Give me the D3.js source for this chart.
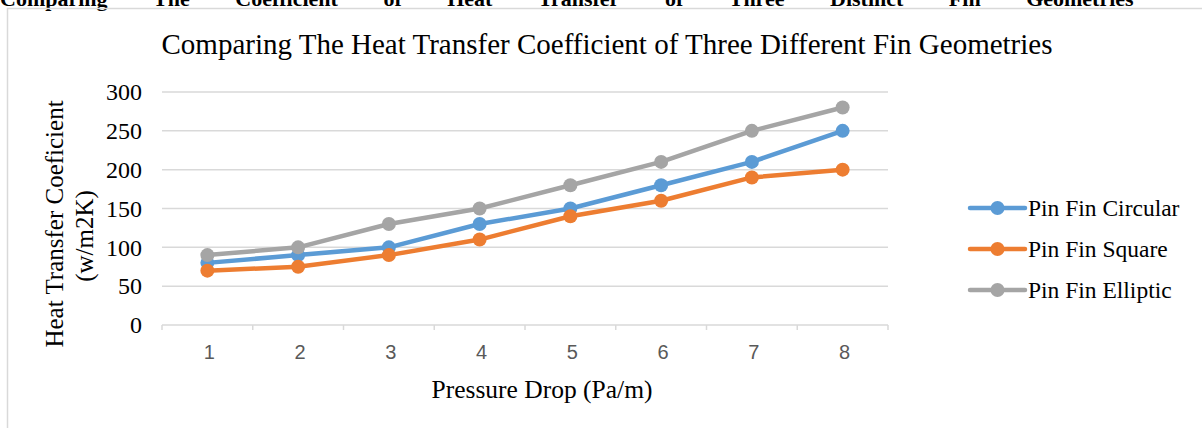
<!DOCTYPE html>
<html>
<head>
<meta charset="utf-8">
<script src="https://cdn.jsdelivr.net/npm/d3@7"></script>
<style>
  body { margin: 0; background: #fff; }
  svg { display: block; }
</style>
</head>
<body>
<script>
// data
var categories = ["1", "2", "3", "4", "5", "6", "7", "8"];
var circular = [80, 90, 100, 130, 150, 180, 210, 250];
var square = [70, 75, 90, 110, 140, 160, 190, 200];
var elliptic = [90, 100, 130, 150, 180, 210, 250, 280];
var seriesNames = ["Pin Fin Circular", "Pin Fin Square", "Pin Fin Elliptic"];
var yTicks = [0, 50, 100, 150, 200, 250, 300];
var captionWords = ["Comparing", "The", "Coefficient", "of", "Heat", "Transfer", "of", "Three", "Distinct", "Fin", "Geometries"];

var W = 1202, H = 428;
var plot = {left: 162, right: 888, top: 92, bottom: 325};
var colors = ["#5B9BD5", "#ED7D31", "#A5A5A5"];
var serif = "'Liberation Serif', 'Times New Roman', serif";

var svg = d3.select("body").append("svg")
  .attr("width", W)
  .attr("height", H);

// caption from the page above, cut off by the window top
var cap = svg.append("g").attr("font-family", serif).attr("font-weight", "bold").attr("font-size", 22);
var cx = 0;
captionWords.forEach(function(w) {
  var t = cap.append("text").attr("x", cx).attr("y", 6).text(w);
  cx += t.node().getComputedTextLength() + 45.5;
});

// chart frame
svg.append("path")
  .attr("d", "M7.5," + (H + 2) + "V8.5H" + (W + 2))
  .attr("fill", "none")
  .attr("stroke", "#d9d9d9")
  .attr("stroke-width", 1.5);

var x = d3.scaleBand().domain(categories).range([plot.left, plot.right]);
var y = d3.scaleLinear().domain([0, 300]).range([plot.bottom, plot.top]);

// gridlines
svg.append("g")
  .selectAll("line")
  .data(yTicks.slice(1))
  .enter().append("line")
  .attr("x1", plot.left).attr("x2", plot.right)
  .attr("y1", function(d) { return y(d); })
  .attr("y2", function(d) { return y(d); })
  .attr("stroke", "#d9d9d9")
  .attr("stroke-width", 1.5);

// x axis with ticks between categories
var xAxis = svg.append("g")
  .attr("transform", "translate(0," + plot.bottom + ")");
xAxis.append("line")
  .attr("x1", plot.left).attr("x2", plot.right)
  .attr("stroke", "#d9d9d9").attr("stroke-width", 1.5);
xAxis.selectAll("line.tick")
  .data(d3.range(categories.length + 1))
  .enter().append("line")
  .attr("class", "tick")
  .attr("x1", function(i) { return plot.left + i * x.step(); })
  .attr("x2", function(i) { return plot.left + i * x.step(); })
  .attr("y1", 0).attr("y2", 5)
  .attr("stroke", "#d9d9d9").attr("stroke-width", 1.5);
xAxis.selectAll("text")
  .data(categories)
  .enter().append("text")
  .attr("x", function(d) { return x(d) + x.bandwidth() / 2 + 2; })
  .attr("y", 34)
  .attr("text-anchor", "middle")
  .attr("font-family", "'Liberation Sans', Arial, sans-serif")
  .attr("font-size", 20)
  .attr("fill", "#595959")
  .text(function(d) { return d; });

// y axis labels
var yAxis = d3.axisLeft(y).tickValues(yTicks).tickSize(0).tickPadding(20);
svg.append("g")
  .attr("transform", "translate(" + plot.left + ",0)")
  .call(yAxis)
  .call(function(g) { g.select(".domain").remove(); })
  .selectAll("text")
  .attr("font-family", serif)
  .attr("font-size", 24)
  .attr("fill", "#000");

// lines and markers
var allSeries = [circular, square, elliptic];
var line = d3.line()
  .x(function(d, i) { return x(categories[i]) + x.bandwidth() / 2; })
  .y(function(d) { return y(d); });

allSeries.forEach(function(vals, s) {
  var g = svg.append("g");
  g.append("path")
    .datum(vals)
    .attr("d", line)
    .attr("fill", "none")
    .attr("stroke", colors[s])
    .attr("stroke-width", 4.5)
    .attr("stroke-linejoin", "round");
  g.selectAll("circle")
    .data(vals)
    .enter().append("circle")
    .attr("cx", function(d, i) { return x(categories[i]) + x.bandwidth() / 2; })
    .attr("cy", function(d) { return y(d); })
    .attr("r", 7)
    .attr("fill", colors[s]);
});

// titles
svg.append("text")
  .attr("x", 607).attr("y", 54)
  .attr("text-anchor", "middle")
  .attr("font-family", serif)
  .attr("font-size", 29)
  .text("Comparing The Heat Transfer Coefficient of Three Different Fin Geometries");

svg.append("text")
  .attr("x", 542).attr("y", 398)
  .attr("text-anchor", "middle")
  .attr("font-family", serif)
  .attr("font-size", 25.5)
  .text("Pressure Drop (Pa/m)");

var yt = svg.append("g")
  .attr("font-family", serif)
  .attr("font-size", 25)
  .attr("text-anchor", "middle");
yt.append("text")
  .attr("transform", "translate(63,224) rotate(-90)")
  .text("Heat Transfer Coeficient");
yt.append("text")
  .attr("transform", "translate(93,236) rotate(-90)")
  .text("(w/m2K)");

// legend
var legend = svg.append("g")
  .selectAll("g")
  .data(seriesNames)
  .enter().append("g")
  .attr("transform", function(d, i) { return "translate(970," + (208 + i * 41) + ")"; });
legend.append("line")
  .attr("x1", 0).attr("x2", 55)
  .attr("stroke", function(d, i) { return colors[i]; })
  .attr("stroke-width", 4.5)
  .attr("stroke-linecap", "round");
legend.append("circle")
  .attr("cx", 27.5).attr("r", 7)
  .attr("fill", function(d, i) { return colors[i]; });
legend.append("text")
  .attr("x", 58).attr("y", 8)
  .attr("font-family", serif)
  .attr("font-size", 23.5)
  .text(function(d) { return d; });
</script>
</body>
</html>
